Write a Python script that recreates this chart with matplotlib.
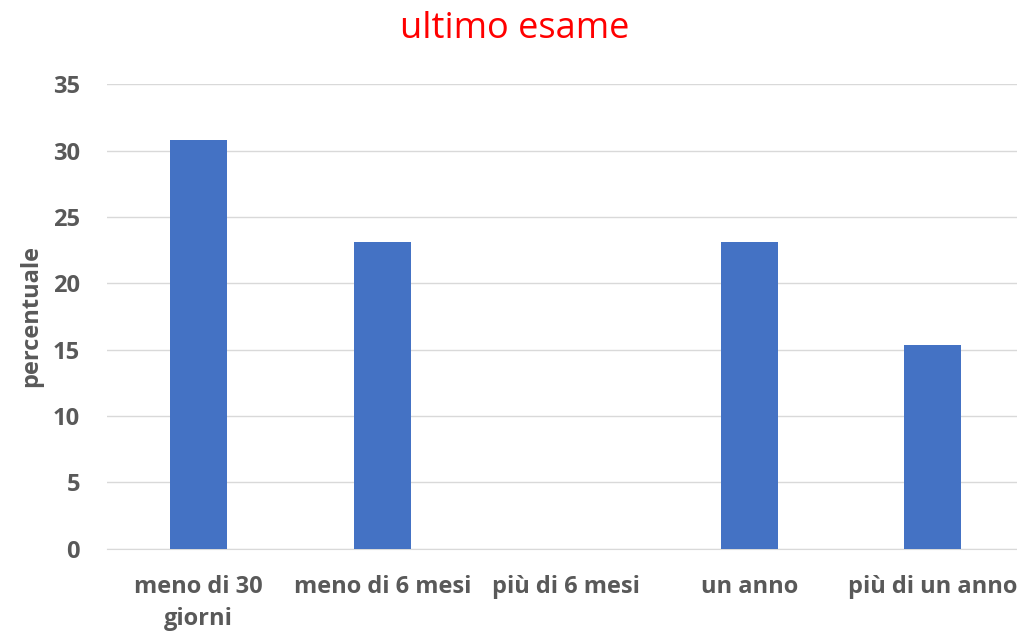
import matplotlib as mpl
mpl.use('Agg')
import matplotlib.pyplot as plt

categorie = ["meno di 30\ngiorni", "meno di 6 mesi", "più di 6 mesi", "un anno", "più di un anno"]
percentuali = [30.77, 23.08, 0, 23.08, 15.38]
tick_y = [0, 5, 10, 15, 20, 25, 30, 35]

plt.rcParams['font.family'] = ['Open Sans', 'DejaVu Sans']

fig = plt.figure(figsize=(10.17, 6.33), dpi=100)
# plot area runs a bit past the right edge, as in the original
ax = fig.add_axes([107 / 1017, 0.133, 917.5 / 1017, 0.734])

x = list(range(len(categorie)))
ax.bar(x, percentuali, width=0.31, color='#4472C4', zorder=3)

ax.set_xlim(-0.5, len(categorie) - 0.5)
ax.set_ylim(0, 35)
ax.set_yticks(tick_y)
ax.set_xticks(x)
ax.set_xticklabels(categorie, fontsize=17, fontweight='bold', color='#595959',
                   linespacing=1.45)
for lab in ax.get_yticklabels():
    lab.set_fontsize(17)
    lab.set_fontweight('bold')
    lab.set_color('#595959')

ax.grid(axis='y', color='#D9D9D9', linewidth=1, zorder=0)
for s in ['top', 'right', 'left']:
    ax.spines[s].set_visible(False)
ax.spines['bottom'].set_color('#D9D9D9')
ax.tick_params(axis='both', length=0)
ax.tick_params(axis='x', pad=19)
ax.tick_params(axis='y', pad=19.5)

fig.text(31 / 1017, 1 - 316 / 633, 'percentuale', rotation=90, ha='center', va='center',
         fontsize=17, fontweight='bold', color='#595959')
fig.text(515 / 1017, 1 - 38 / 633, 'ultimo esame', ha='center', va='baseline',
         fontsize=26, color='#FF0000')

fig.savefig('out.png')
